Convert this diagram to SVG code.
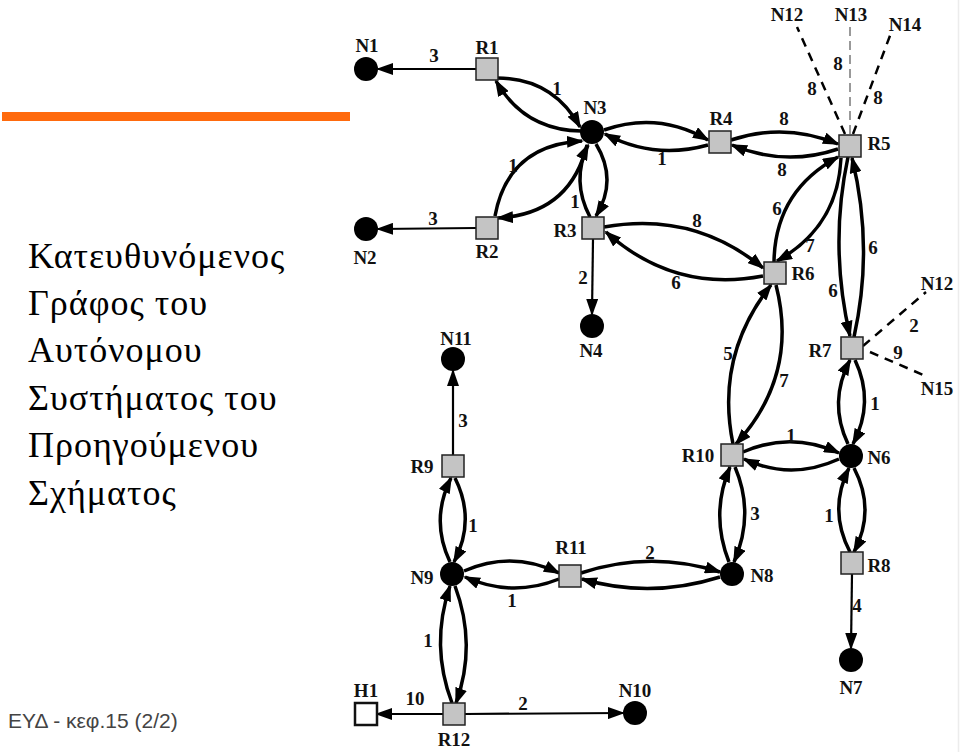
<svg xmlns="http://www.w3.org/2000/svg" width="960" height="756" viewBox="0 0 960 756">
<style>
.title{font-family:"Liberation Serif","DejaVu Serif",serif;font-size:36px;letter-spacing:1px;fill:#000}
.foot{font-family:"Liberation Sans","DejaVu Sans",sans-serif;font-size:21px;fill:#444}
.lbl{font-family:"Liberation Serif","DejaVu Serif",serif;font-size:19px;font-weight:bold;fill:#111;text-anchor:middle}
.rt{fill:#c4c4c4;stroke:#222;stroke-width:1.5}
.h{fill:#fff;stroke:#111;stroke-width:2.5}
.nd{fill:#000}
.cv{fill:none;stroke:#000;stroke-width:3.5;marker-end:url(#ah)}
.st{fill:none;stroke:#000;stroke-width:2.2;marker-end:url(#ah)}
.ds{fill:none;stroke:#000;stroke-width:2.5;stroke-dasharray:9 7}
.dg{fill:none;stroke:#999;stroke-width:2;stroke-dasharray:9 5}
</style>
<defs>
<marker id="ah" markerUnits="userSpaceOnUse" markerWidth="17" markerHeight="12" refX="15" refY="6" orient="auto">
<path d="M0,0 L17,6 L0,12 z" fill="#000"/>
</marker>
</defs>
<rect width="960" height="756" fill="#fff"/>
<line x1="958.5" y1="0" x2="958.5" y2="752" stroke="#ececec" stroke-width="1.5"/>
<rect x="2" y="112" width="348" height="9" fill="#ff6a0d"/>
<g id="title">
<text class="title" x="28" y="268">Κατευθυνόμενος</text>
<text class="title" x="28" y="315">Γράφος του</text>
<text class="title" x="28" y="362">Αυτόνομου</text>
<text class="title" x="28" y="410">Συστήματος του</text>
<text class="title" x="28" y="457">Προηγούμενου</text>
<text class="title" x="28" y="505">Σχήματος</text>
</g>
<text class="foot" x="8" y="728">ΕΥΔ - κεφ.15 (2/2)</text>

<g id="connectors">
<!-- straight -->
<path class="st" d="M476,69 L378,69"/>
<path class="st" d="M476,228 L378,229"/>
<path class="st" d="M593,239 L592,314"/>
<path class="st" d="M852,574 L851,648"/>
<path class="st" d="M453,455 L453,371"/>
<path class="st" d="M443,714 L377,714"/>
<path class="st" d="M465,714 L623,713"/>
<!-- dashed -->
<path class="ds" d="M845,134 L797,27"/>
<path class="dg" d="M850,134 L850,27"/>
<path class="ds" d="M853,134 L891,33"/>
<path class="ds" d="M863,346 L926,292"/>
<path class="ds" d="M870,352 L928,377"/>
<!-- curved lenses -->
<path class="cv" d="M497,78 Q553,78 580,127"/>
<path class="cv" d="M581,131 Q524,130 496,81"/>
<path class="cv" d="M495,216 Q508,145 582,141"/>
<path class="cv" d="M587,145 Q570,214 498,218"/>
<path class="cv" d="M590,217 Q571,181 588,145"/>
<path class="cv" d="M596,144 Q618,180 596,216"/>
<path class="cv" d="M604,130 Q658,111 708,140"/>
<path class="cv" d="M708,145 Q654,160 605,134"/>
<path class="cv" d="M731,140 Q785,122 838,144"/>
<path class="cv" d="M838,149 Q785,167 732,145"/>
<path class="cv" d="M774,262 Q775,191 838,157"/>
<path class="cv" d="M841,158 Q838,227 777,261"/>
<path class="cv" d="M604,227 Q694,211 763,268"/>
<path class="cv" d="M763,276 Q674,293 606,232"/>
<path class="cv" d="M848,157 Q829,246 850,336"/>
<path class="cv" d="M854,337 Q874,247 852,158"/>
<path class="cv" d="M733,444 Q715,356 771,285"/>
<path class="cv" d="M776,285 Q799,375 736,444"/>
<path class="cv" d="M848,444 Q828,402 850,360"/>
<path class="cv" d="M855,360 Q875,402 853,444"/>
<path class="cv" d="M743,452 Q791,431 839,453"/>
<path class="cv" d="M839,459 Q791,481 744,459"/>
<path class="cv" d="M729,562 Q710,514 730,467"/>
<path class="cv" d="M735,467 Q755,514 734,562"/>
<path class="cv" d="M850,552 Q828,510 849,468"/>
<path class="cv" d="M854,468 Q876,510 854,552"/>
<path class="cv" d="M581,573 Q650,550 720,572"/>
<path class="cv" d="M720,577 Q650,599 582,579"/>
<path class="cv" d="M464,571 Q512,550 559,573"/>
<path class="cv" d="M559,579 Q512,598 465,577"/>
<path class="cv" d="M450,562 Q430,520 451,478"/>
<path class="cv" d="M455,478 Q476,520 454,562"/>
<path class="cv" d="M452,703 Q430,645 450,586"/>
<path class="cv" d="M455,586 Q477,645 456,703"/>
</g>

<g id="edge-labels">
<text class="lbl" x="434" y="62">3</text>
<text class="lbl" x="557" y="95">1</text>
<text class="lbl" x="513" y="172">1</text>
<text class="lbl" x="575" y="208">1</text>
<text class="lbl" x="433" y="225">3</text>
<text class="lbl" x="583" y="284">2</text>
<text class="lbl" x="662" y="165">1</text>
<text class="lbl" x="784" y="125">8</text>
<text class="lbl" x="782" y="176">8</text>
<text class="lbl" x="697" y="227">8</text>
<text class="lbl" x="676" y="289">6</text>
<text class="lbl" x="777" y="215">6</text>
<text class="lbl" x="810" y="252">7</text>
<text class="lbl" x="833" y="297">6</text>
<text class="lbl" x="873" y="254">6</text>
<text class="lbl" x="812" y="95">8</text>
<text class="lbl" x="838" y="70">8</text>
<text class="lbl" x="878" y="104">8</text>
<text class="lbl" x="914" y="332">2</text>
<text class="lbl" x="898" y="359">9</text>
<text class="lbl" x="728" y="360">5</text>
<text class="lbl" x="784" y="387">7</text>
<text class="lbl" x="875" y="410">1</text>
<text class="lbl" x="791" y="442">1</text>
<text class="lbl" x="755" y="520">3</text>
<text class="lbl" x="829" y="522">1</text>
<text class="lbl" x="857" y="612">4</text>
<text class="lbl" x="650" y="559">2</text>
<text class="lbl" x="512" y="607">1</text>
<text class="lbl" x="463" y="427">3</text>
<text class="lbl" x="473" y="532">1</text>
<text class="lbl" x="428" y="647">1</text>
<text class="lbl" x="415" y="705">10</text>
<text class="lbl" x="523" y="710">2</text>
</g>

<g id="N1"><circle class="nd" cx="366" cy="69" r="12"/><text class="lbl" x="367" y="52">N1</text></g>
<g id="R1"><rect class="rt" x="476" y="58" width="22" height="22"/><text class="lbl" x="487" y="54">R1</text></g>
<g id="N3"><circle class="nd" cx="592" cy="132" r="12"/><text class="lbl" x="595" y="114">N3</text></g>
<g id="N2"><circle class="nd" cx="366" cy="229" r="12"/><text class="lbl" x="365" y="264">N2</text></g>
<g id="R2"><rect class="rt" x="476" y="217" width="22" height="22"/><text class="lbl" x="487" y="258">R2</text></g>
<g id="R3"><rect class="rt" x="582" y="217" width="22" height="22"/><text class="lbl" x="565" y="237">R3</text></g>
<g id="N4"><circle class="nd" cx="592" cy="326" r="12"/><text class="lbl" x="591" y="357">N4</text></g>
<g id="R4"><rect class="rt" x="709" y="131" width="22" height="22"/><text class="lbl" x="721" y="125">R4</text></g>
<g id="R5"><rect class="rt" x="839" y="135" width="22" height="22"/><text class="lbl" x="879" y="150">R5</text></g>
<g id="N12a"><text class="lbl" x="787" y="21">N12</text></g>
<g id="N13"><text class="lbl" x="851" y="21">N13</text></g>
<g id="N14"><text class="lbl" x="905" y="31">N14</text></g>
<g id="R6"><rect class="rt" x="764" y="262" width="22" height="22"/><text class="lbl" x="803" y="280">R6</text></g>
<g id="N12b"><text class="lbl" x="937" y="290">N12</text></g>
<g id="R7"><rect class="rt" x="841" y="337" width="22" height="22"/><text class="lbl" x="820" y="357">R7</text></g>
<g id="N15"><text class="lbl" x="937" y="395">N15</text></g>
<g id="R10"><rect class="rt" x="721" y="444" width="22" height="22"/><text class="lbl" x="698" y="462">R10</text></g>
<g id="N6"><circle class="nd" cx="851" cy="456" r="12"/><text class="lbl" x="879" y="464">N6</text></g>
<g id="N11"><circle class="nd" cx="453" cy="359" r="12"/><text class="lbl" x="456" y="345">N11</text></g>
<g id="R9"><rect class="rt" x="442" y="455" width="22" height="22"/><text class="lbl" x="422" y="473">R9</text></g>
<g id="R11"><rect class="rt" x="559" y="565" width="22" height="22"/><text class="lbl" x="571" y="554">R11</text></g>
<g id="N9"><circle class="nd" cx="452" cy="574" r="12"/><text class="lbl" x="422" y="584">N9</text></g>
<g id="N8"><circle class="nd" cx="732" cy="574" r="12"/><text class="lbl" x="762" y="582">N8</text></g>
<g id="R8"><rect class="rt" x="841" y="552" width="22" height="22"/><text class="lbl" x="879" y="572">R8</text></g>
<g id="N7"><circle class="nd" cx="851" cy="660" r="12"/><text class="lbl" x="851" y="694">N7</text></g>
<g id="H1"><rect class="h" x="355" y="703" width="22" height="22"/><text class="lbl" x="366" y="697">H1</text></g>
<g id="R12"><rect class="rt" x="443" y="703" width="22" height="22"/><text class="lbl" x="454" y="746">R12</text></g>
<g id="N10"><circle class="nd" cx="635" cy="713" r="12"/><text class="lbl" x="635" y="697">N10</text></g>
</svg>
